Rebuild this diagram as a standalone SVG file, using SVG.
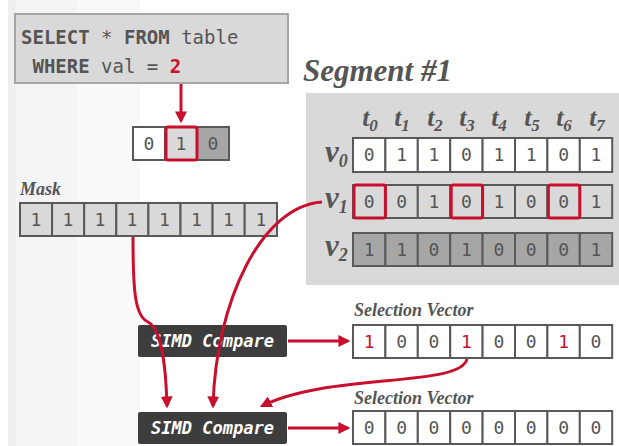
<svg xmlns="http://www.w3.org/2000/svg" width="619" height="446" viewBox="0 0 619 446">
  <style>
    .mono { font-family: "DejaVu Sans Mono", "Liberation Mono", monospace; }
    .cell { fill: #555555; font-size: 18px; text-anchor: middle; }
    .hit { fill: #c8102e; }
    .lbl { font-family: "Liberation Serif", "DejaVu Serif", serif; font-style: italic; font-weight: bold; fill: #555555; }
    .row { stroke: #595959; stroke-width: 2; }
    .sel { fill: none; stroke: #c8102e; stroke-width: 3; }
    .wire { fill: none; stroke: #c8102e; stroke-width: 3; }
    .simd { fill: #3d3d3d; }
    .simdtxt { fill: #ffffff; font-size: 17px; font-weight: bold; font-style: italic; text-anchor: middle; }
  </style>
  <defs>
    <marker id="arrow" viewBox="0 0 10 10" refX="8" refY="5" markerWidth="4" markerHeight="4" orient="auto" markerUnits="strokeWidth">
      <path d="M0,0 L10,5 L0,10 z" fill="#c8102e"/>
    </marker>
  </defs>

  <!-- background -->
  <rect x="0" y="0" width="619" height="446" fill="#ffffff"/>
  <rect x="8" y="0" width="8" height="446" fill="#efefef"/>
  <rect x="16" y="0" width="61" height="446" fill="#f4f4f4"/>
  <rect x="77" y="0" width="63" height="446" fill="#f9f9f9"/>

  <!-- query -->
  <g id="query">
    <rect x="15" y="14" width="273" height="69" fill="#d9d9d9" stroke="#a6a6a6" stroke-width="2"/>
    <text class="mono" x="21" y="44" font-size="19" fill="#555555" xml:space="preserve"><tspan font-weight="bold">SELECT</tspan> * <tspan font-weight="bold">FROM</tspan> table</text>
    <text class="mono" x="21" y="73" font-size="19" fill="#555555" xml:space="preserve"> <tspan font-weight="bold">WHERE</tspan> val = <tspan font-weight="bold" fill="#c8102e">2</tspan></text>
  </g>

  <!-- dictionary lookup result -->
  <g id="dict">
    <rect class="row" x="133" y="127" width="32" height="33" fill="#ffffff"/>
    <rect class="row" x="165" y="127" width="32" height="33" fill="#d9d9d9"/>
    <rect class="row" x="197" y="127" width="32" height="33" fill="#a6a6a6"/>
    <rect class="sel" x="166" y="127" width="31" height="33" rx="2"/>
    <text class="mono cell" x="149" y="150">0</text>
    <text class="mono cell" x="181" y="150">1</text>
    <text class="mono cell" x="213" y="150">0</text>
  </g>

  <!-- mask -->
  <g id="mask">
    <text class="lbl" x="20" y="195" font-size="18">Mask</text>
    <g fill="#d9d9d9">
      <rect class="row" x="20" y="203" width="32.1" height="33"/>
      <rect class="row" x="52.1" y="203" width="32.1" height="33"/>
      <rect class="row" x="84.2" y="203" width="32.1" height="33"/>
      <rect class="row" x="116.3" y="203" width="32.1" height="33"/>
      <rect class="row" x="148.4" y="203" width="32.1" height="33"/>
      <rect class="row" x="180.5" y="203" width="32.1" height="33"/>
      <rect class="row" x="212.6" y="203" width="32.1" height="33"/>
      <rect class="row" x="244.7" y="203" width="32.3" height="33"/>
    </g>
    <g class="mono cell">
      <text x="36" y="226">1</text><text x="68" y="226">1</text><text x="100" y="226">1</text><text x="132" y="226">1</text>
      <text x="164.5" y="226">1</text><text x="196.5" y="226">1</text><text x="228.5" y="226">1</text><text x="261" y="226">1</text>
    </g>
  </g>

  <!-- segment -->
  <g id="segment">
    <text class="lbl" x="303" y="81" font-size="31">Segment #1</text>
    <rect x="306" y="93" width="313" height="192" fill="#d9d9d9"/>
    <g class="lbl" font-size="26" text-anchor="middle">
      <text x="370" y="126">t<tspan font-size="17" dy="5">0</tspan></text>
      <text x="402" y="126">t<tspan font-size="17" dy="5">1</tspan></text>
      <text x="435" y="126">t<tspan font-size="17" dy="5">2</tspan></text>
      <text x="467" y="126">t<tspan font-size="17" dy="5">3</tspan></text>
      <text x="499" y="126">t<tspan font-size="17" dy="5">4</tspan></text>
      <text x="532" y="126">t<tspan font-size="17" dy="5">5</tspan></text>
      <text x="564" y="126">t<tspan font-size="17" dy="5">6</tspan></text>
      <text x="597" y="126">t<tspan font-size="17" dy="5">7</tspan></text>
    </g>
    <g class="lbl" font-size="31">
      <text x="325" y="162">v<tspan font-size="18" dy="5">0</tspan></text>
      <text x="325" y="208">v<tspan font-size="18" dy="5">1</tspan></text>
      <text x="325" y="256">v<tspan font-size="18" dy="5">2</tspan></text>
    </g>
  </g>

  <g id="v0">
    <g fill="#ffffff">
      <rect class="row" x="353" y="138" width="32.4" height="34"/>
      <rect class="row" x="385.4" y="138" width="32.4" height="34"/>
      <rect class="row" x="417.8" y="138" width="32.4" height="34"/>
      <rect class="row" x="450.2" y="138" width="32.4" height="34"/>
      <rect class="row" x="482.6" y="138" width="32.4" height="34"/>
      <rect class="row" x="515" y="138" width="32.4" height="34"/>
      <rect class="row" x="547.4" y="138" width="32.4" height="34"/>
      <rect class="row" x="579.8" y="138" width="32.4" height="34"/>
    </g>
    <g class="mono cell">
      <text x="369.2" y="161">0</text><text x="401.6" y="161">1</text><text x="434" y="161">1</text><text x="466.4" y="161">0</text>
      <text x="498.8" y="161">1</text><text x="531.2" y="161">1</text><text x="563.6" y="161">0</text><text x="596" y="161">1</text>
    </g>
  </g>

  <g id="v1">
    <g fill="#d9d9d9">
      <rect class="row" x="353" y="185" width="32.4" height="33"/>
      <rect class="row" x="385.4" y="185" width="32.4" height="33"/>
      <rect class="row" x="417.8" y="185" width="32.4" height="33"/>
      <rect class="row" x="450.2" y="185" width="32.4" height="33"/>
      <rect class="row" x="482.6" y="185" width="32.4" height="33"/>
      <rect class="row" x="515" y="185" width="32.4" height="33"/>
      <rect class="row" x="547.4" y="185" width="32.4" height="33"/>
      <rect class="row" x="579.8" y="185" width="32.4" height="33"/>
    </g>
    <rect class="sel" x="354" y="185" width="31.4" height="33" rx="2"/>
    <rect class="sel" x="451.2" y="185" width="31.4" height="33" rx="2"/>
    <rect class="sel" x="548.4" y="185" width="31.4" height="33" rx="2"/>
    <g class="mono cell">
      <text x="369.2" y="208">0</text><text x="401.6" y="208">0</text><text x="434" y="208">1</text><text x="466.4" y="208">0</text>
      <text x="498.8" y="208">1</text><text x="531.2" y="208">0</text><text x="563.6" y="208">0</text><text x="596" y="208">1</text>
    </g>
  </g>

  <g id="v2">
    <g fill="#a6a6a6">
      <rect class="row" x="353" y="233" width="32.4" height="33"/>
      <rect class="row" x="385.4" y="233" width="32.4" height="33"/>
      <rect class="row" x="417.8" y="233" width="32.4" height="33"/>
      <rect class="row" x="450.2" y="233" width="32.4" height="33"/>
      <rect class="row" x="482.6" y="233" width="32.4" height="33"/>
      <rect class="row" x="515" y="233" width="32.4" height="33"/>
      <rect class="row" x="547.4" y="233" width="32.4" height="33"/>
      <rect class="row" x="579.8" y="233" width="32.4" height="33"/>
    </g>
    <g class="mono cell">
      <text x="369.2" y="256">1</text><text x="401.6" y="256">1</text><text x="434" y="256">0</text><text x="466.4" y="256">1</text>
      <text x="498.8" y="256">0</text><text x="531.2" y="256">0</text><text x="563.6" y="256">0</text><text x="596" y="256">1</text>
    </g>
  </g>

  <!-- compare units -->
  <g id="simd1">
    <rect class="simd" x="138" y="325" width="149" height="32" rx="2"/>
    <text class="mono simdtxt" x="212.5" y="347">SIMD Compare</text>
  </g>
  <g id="simd2">
    <rect class="simd" x="138" y="412" width="149" height="32" rx="2"/>
    <text class="mono simdtxt" x="212.5" y="434">SIMD Compare</text>
  </g>

  <!-- selection vectors -->
  <g id="selvec1">
    <text class="lbl" x="354" y="316" font-size="18">Selection Vector</text>
    <g fill="#ffffff">
      <rect class="row" x="353" y="325" width="32.4" height="33"/>
      <rect class="row" x="385.4" y="325" width="32.4" height="33"/>
      <rect class="row" x="417.8" y="325" width="32.4" height="33"/>
      <rect class="row" x="450.2" y="325" width="32.4" height="33"/>
      <rect class="row" x="482.6" y="325" width="32.4" height="33"/>
      <rect class="row" x="515" y="325" width="32.4" height="33"/>
      <rect class="row" x="547.4" y="325" width="32.4" height="33"/>
      <rect class="row" x="579.8" y="325" width="32.4" height="33"/>
    </g>
    <g class="mono cell">
      <text class="hit" x="369.2" y="348">1</text><text x="401.6" y="348">0</text><text x="434" y="348">0</text><text class="hit" x="466.4" y="348">1</text>
      <text x="498.8" y="348">0</text><text x="531.2" y="348">0</text><text class="hit" x="563.6" y="348">1</text><text x="596" y="348">0</text>
    </g>
  </g>

  <g id="selvec2">
    <text class="lbl" x="354" y="404" font-size="18">Selection Vector</text>
    <g fill="#ffffff">
      <rect class="row" x="353" y="411" width="32.4" height="33"/>
      <rect class="row" x="385.4" y="411" width="32.4" height="33"/>
      <rect class="row" x="417.8" y="411" width="32.4" height="33"/>
      <rect class="row" x="450.2" y="411" width="32.4" height="33"/>
      <rect class="row" x="482.6" y="411" width="32.4" height="33"/>
      <rect class="row" x="515" y="411" width="32.4" height="33"/>
      <rect class="row" x="547.4" y="411" width="32.4" height="33"/>
      <rect class="row" x="579.8" y="411" width="32.4" height="33"/>
    </g>
    <g class="mono cell">
      <text x="369.2" y="434">0</text><text x="401.6" y="434">0</text><text x="434" y="434">0</text><text x="466.4" y="434">0</text>
      <text x="498.8" y="434">0</text><text x="531.2" y="434">0</text><text x="563.6" y="434">0</text><text x="596" y="434">0</text>
    </g>
  </g>

  <!-- connectors -->
  <g id="connectors">
    <path class="wire" d="M181,84 L181,121" marker-end="url(#arrow)"/>
    <path class="wire" d="M133,237 C133,292 135,316 148,322 C163,330 166,372 167,406" marker-end="url(#arrow)"/>
    <path class="wire" d="M322,202 C262,206 216,300 213,406" marker-end="url(#arrow)"/>
    <path class="wire" d="M467,359 C460,388 330,372 262,406" marker-end="url(#arrow)"/>
    <path class="wire" d="M288,341 L348,341" marker-end="url(#arrow)"/>
    <path class="wire" d="M288,428 L348,428" marker-end="url(#arrow)"/>
  </g>
</svg>
